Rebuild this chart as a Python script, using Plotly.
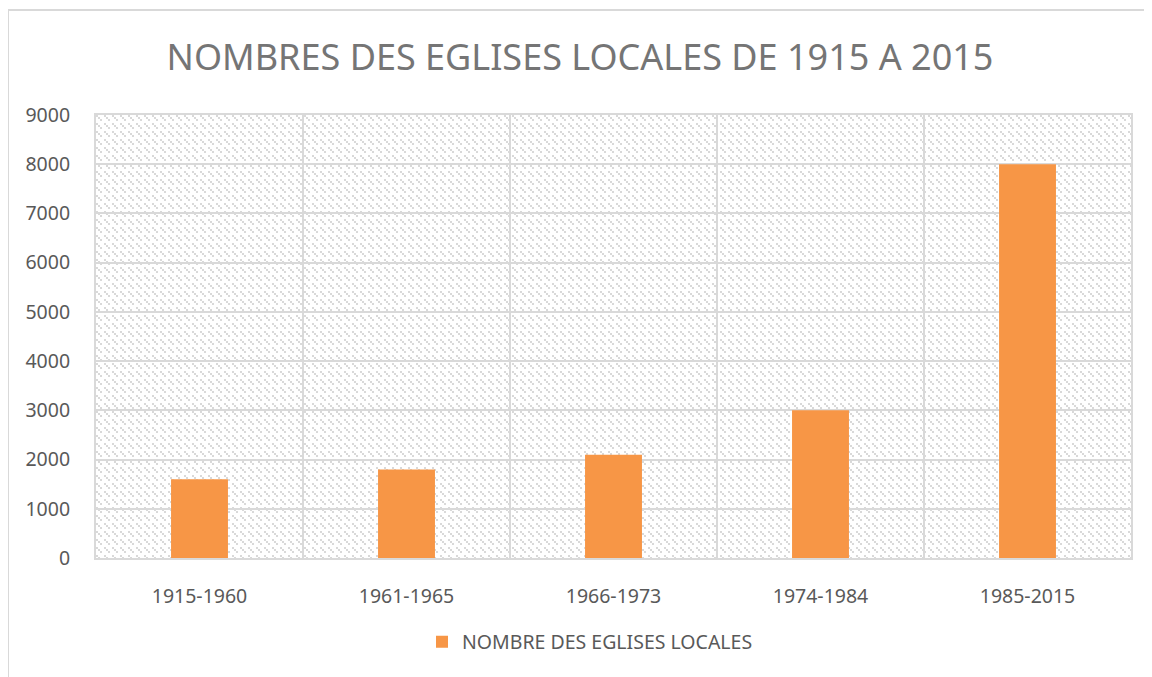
import plotly.graph_objects as go
import base64

categories = ["1915-1960", "1961-1965", "1966-1973", "1974-1984", "1985-2015"]
values = [1600, 1800, 2100, 3000, 8000]
series_name = "NOMBRE DES EGLISES LOCALES"
title_text = "NOMBRES DES EGLISES LOCALES DE 1915 A 2015"

# page has an 8px body margin, so the figure is 8px smaller than the window
OFF = 8
W, H = 1152 - OFF, 677 - OFF
ml, mr, mt, mb = 96 - OFF, 21, 115 - OFF, 119
pw, ph = W - ml - mr, H - mt - mb

svg = f'''<svg xmlns="http://www.w3.org/2000/svg" width="{pw}" height="{ph}" viewBox="0 0 {pw} {ph}" shape-rendering="crispEdges">
<defs><pattern id="p" width="8" height="8" patternUnits="userSpaceOnUse">
<rect x="0" y="0" width="2" height="2" fill="#d9d9d9"/>
<rect x="2" y="2" width="2" height="2" fill="#d9d9d9"/>
<rect x="4" y="4" width="2" height="2" fill="#d9d9d9"/>
</pattern></defs>
<rect width="100%" height="100%" fill="url(#p)"/></svg>'''
uri = "data:image/svg+xml;base64," + base64.b64encode(svg.encode()).decode()

fig = go.Figure()
fig.add_trace(go.Bar(
    x=categories, y=values, name=series_name,
    marker=dict(color="#F79646", line=dict(width=0)),
    showlegend=True,
))

fx = lambda px: (px - OFF - ml) / pw
fy = lambda py: (H - mb - (py - OFF)) / ph

fig.update_layout(
    width=W, height=H,
    margin=dict(l=ml, r=mr, t=mt, b=mb),
    paper_bgcolor="white",
    plot_bgcolor="rgba(0,0,0,0)",
    bargap=0.725,
    font=dict(family="Noto Sans", color="#595959", size=19),
    title=dict(text=title_text, x=0.5, xanchor="center", y=1 - (57 - OFF) / H, yanchor="middle",
               xref="container", yref="container",
               font=dict(family="Noto Sans", size=36, color="#757575")),
    xaxis=dict(showgrid=True, gridcolor="#d9d9d9", gridwidth=2, showline=True,
               linecolor="#d9d9d9", linewidth=2, mirror=True, ticks="", tickson="boundaries",
               ticklabelstandoff=20, tickfont=dict(size=19.5, color="#595959")),
    yaxis=dict(range=[0, 9000], dtick=1000, showgrid=True, gridcolor="#d9d9d9",
               gridwidth=2, showline=True, linecolor="#d9d9d9", linewidth=2, mirror=True,
               ticks="", zeroline=False, tickfont=dict(size=19.5, color="#595959"),
               ticklabelstandoff=20),
    legend=dict(orientation="h", x=fx(590), xanchor="center", y=fy(642), yanchor="middle",
                font=dict(size=19.5, color="#595959"), itemsizing="constant"),
    images=[dict(source=uri, xref="paper", yref="paper", x=0, y=1, sizex=1, sizey=1,
                 xanchor="left", yanchor="top", sizing="stretch", layer="below")],
    shapes=[dict(type="line", xref="paper", yref="paper",
                 x0=fx(8), x1=fx(8), y0=fy(677), y1=fy(10),
                 line=dict(color="#d9d9d9", width=2)),
            dict(type="line", xref="paper", yref="paper",
                 x0=fx(8), x1=fx(1152), y0=fy(10), y1=fy(10),
                 line=dict(color="#d9d9d9", width=2))],
)

fig.write_html("out.html")
